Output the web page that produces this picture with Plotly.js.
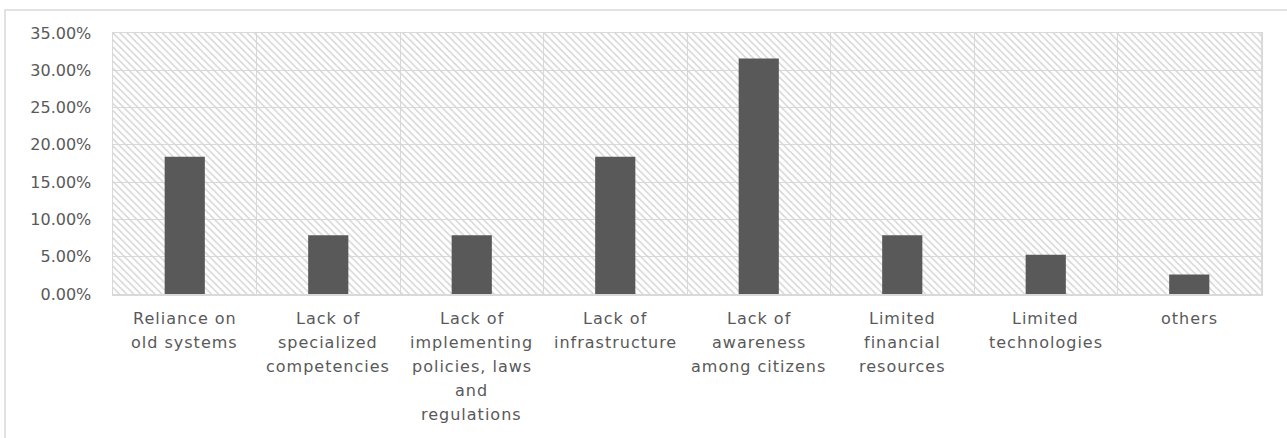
<!DOCTYPE html>
<html>
<head>
<meta charset="utf-8">
<script src="https://cdn.plot.ly/plotly-3.0.1.min.js"></script>
<style>
  html, body { margin: 0; padding: 0; background: #ffffff; }
  #chart { width: 1287px; height: 438px; }
  .annotation-text { letter-spacing: 1px; }
  .ytick text { letter-spacing: 2px; }
</style>
</head>
<body>
<div id="chart"></div>
<script>
// ---- data ----
const categories = [
  "Reliance on<br>old systems",
  "Lack of<br>specialized<br>competencies",
  "Lack of<br>implementing<br>policies, laws<br>and<br>regulations",
  "Lack of<br>infrastructure",
  "Lack of<br>awareness<br>among citizens",
  "Limited<br>financial<br>resources",
  "Limited<br>technologies",
  "others"
];
const values = [18.42, 7.89, 7.89, 18.42, 31.58, 7.89, 5.26, 2.63];
const yTickValues = [0, 5, 10, 15, 20, 25, 30, 35];

// ---- style ----
const textColor = "#595959";
const gridColor = "#d9d9d9";
const fontFamily = "DejaVu Sans, sans-serif";

// hatched plot background (decoration) on hidden main axes
const hatch = {
  type: "scatter",
  x: [0, 1, 1, 0, 0],
  y: [0, 0, 1, 1, 0],
  xaxis: "x", yaxis: "y",
  mode: "none",
  fill: "toself",
  fillcolor: "rgba(0,0,0,0)",
  fillpattern: { shape: "\\", fgcolor: "#d6d6d6", bgcolor: "rgba(0,0,0,0)", size: 5, solidity: 0.3 },
  hoverinfo: "skip",
  showlegend: false
};

const bars = {
  type: "bar",
  x: categories,
  y: values,
  xaxis: "x2", yaxis: "y2",
  marker: { color: "#595959", line: { width: 0 } },
  hoverinfo: "x+y",
  showlegend: false
};

// x labels as annotations, one per line, for Excel-like line pitch
const annotations = [];
categories.forEach((c, i) => {
  c.split("<br>").forEach((line, j) => {
    annotations.push({
      xref: "x2", yref: "paper",
      x: i, y: 0,
      text: line,
      showarrow: false,
      xanchor: "center", yanchor: "middle",
      yshift: -24 - 24.2 * j,
      font: { family: fontFamily, size: 16, color: textColor }
    });
  });
});

const plotW = 1261 - 113, plotH = 294 - 33;

const layout = {
  width: 1287, height: 438,
  margin: { l: 113, r: 26, t: 33, b: 144, pad: 0 },
  paper_bgcolor: "#ffffff",
  plot_bgcolor: "#ffffff",
  showlegend: false,
  bargap: 0.72,
  xaxis: { range: [0, 1], visible: false, fixedrange: true },
  yaxis: { range: [0, 1], visible: false, fixedrange: true },
  xaxis2: {
    type: "category",
    overlaying: "x",
    anchor: "y2",
    side: "bottom",
    range: [-0.5, 7.5],
    tickson: "boundaries",
    showgrid: true, gridcolor: gridColor, gridwidth: 1,
    showticklabels: false,
    ticks: "",
    showline: true, linecolor: gridColor, linewidth: 1.5, mirror: true,
    fixedrange: true
  },
  yaxis2: {
    overlaying: "y",
    anchor: "x2",
    side: "left",
    range: [0, 35],
    tickvals: yTickValues,
    ticktext: yTickValues.map(v => v.toFixed(2) + "%"),
    showgrid: true, gridcolor: gridColor, gridwidth: 1,
    zeroline: false,
    ticks: "",
    ticklabelstandoff: 17,
    tickfont: { family: fontFamily, size: 16, color: textColor },
    showline: true, linecolor: gridColor, linewidth: 1.5, mirror: true,
    fixedrange: true
  },
  annotations: annotations,
  shapes: [{
    type: "rect", xref: "paper", yref: "paper",
    x0: (5 - 113) / plotW, x1: (1300 - 113) / plotW,
    y0: (294 - 460) / plotH, y1: (294 - 10) / plotH,
    line: { color: gridColor, width: 1.5 },
    fillcolor: "rgba(0,0,0,0)",
    layer: "below"
  }]
};

Plotly.newPlot("chart", [hatch, bars], layout, { displayModeBar: false, staticPlot: true });
</script>
</body>
</html>
